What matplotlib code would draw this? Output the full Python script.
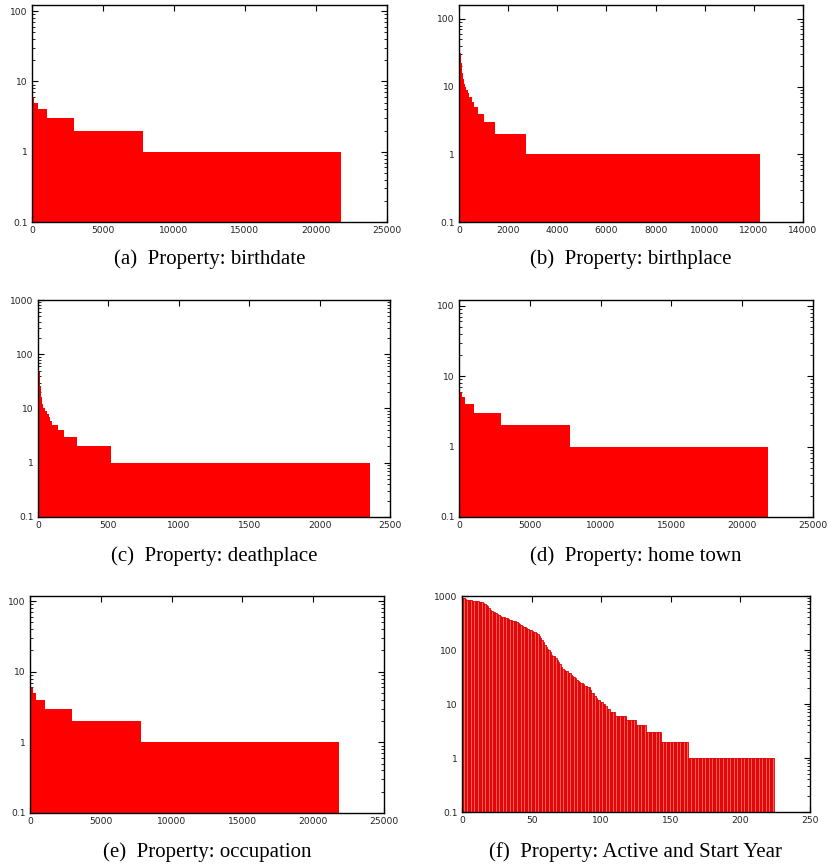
import numpy as np
import matplotlib
matplotlib.use("Agg")
import matplotlib.pyplot as plt
from matplotlib.ticker import FixedLocator, LogLocator, FuncFormatter

# rank / frequency plots, stored as distinct levels and how many items sit on each level

# (a) birthdate
bd_vals = [120, 95, 75, 60, 50, 42, 36, 31, 27, 24, 21, 19, 17, 15, 14, 13, 12, 11, 10, 9, 8, 7, 6, 5, 4, 3, 2, 1]
bd_runs = [1, 1, 1, 1, 1, 1, 1, 2, 2, 2, 2, 3, 3, 3, 4, 4, 5, 6, 7, 9, 11, 15, 60, 275, 640, 1900, 4840, 13960]

# (b) birthplace
bp_vals = [160, 120, 95, 80, 68, 58, 50, 44, 39, 35, 31, 28, 25, 22, 20, 18, 16, 14, 13, 12, 11,
           10, 9, 8, 7, 6, 5, 4, 3, 2, 1]
bp_runs = [2, 3, 4, 5, 5, 6, 7, 8, 8, 9, 10, 11, 12, 14, 15, 16, 18, 20, 22, 25, 30,
           50, 55, 56, 100, 110, 170, 210, 450, 1274, 9526]

# (c) deathplace
dp_vals = [100, 85, 80, 76, 72, 66, 60, 54, 48, 43, 38, 34, 30, 26, 22, 19, 16, 14, 13, 12, 11,
           10, 9, 8, 7, 6, 5, 4, 3, 2, 1]
dp_runs = [1, 1, 1, 2, 2, 1, 1, 1, 1, 1, 1, 2, 2, 2, 2, 2, 2, 3, 3, 3, 4,
           14, 15, 12, 9, 14, 38, 43, 93, 243, 1839]

# (d) home town
ht_vals = [120, 90, 70, 55, 45, 38, 32, 27, 23, 20, 18, 16, 15, 14, 13, 12, 11, 10, 9, 8, 7, 6, 5, 4, 3, 2, 1]
ht_runs = [1, 1, 1, 1, 1, 1, 2, 2, 2, 2, 3, 3, 3, 4, 4, 5, 6, 7, 9, 12, 16, 105, 210, 660, 1900, 4880, 13960]

# (e) occupation
oc_vals = [115, 88, 68, 54, 44, 37, 31, 26, 22, 19, 17, 15, 14, 13, 12, 11, 10, 9, 8, 7, 6, 5, 4, 3, 2, 1]
oc_runs = [1, 1, 1, 1, 1, 2, 2, 2, 2, 3, 3, 3, 4, 4, 5, 6, 7, 9, 12, 16, 105, 230, 640, 1900, 4880, 13960]

# (f) active and start year: first ranks one by one, then the flat tail
as_head = [930, 900, 880, 850, 840, 835, 830, 825, 820, 815, 800, 795, 790, 780, 760, 740, 720, 690,
           650, 600, 560, 530, 515, 505, 490, 470, 450, 430, 415, 405, 400, 395, 385, 375, 365, 360,
           350, 345, 340, 335, 320, 305, 290, 280, 270, 262, 255, 245, 237, 230, 225, 220, 218, 210,
           195, 180, 165, 153, 138, 124, 112, 104, 100, 90, 80, 78, 76, 72, 66, 61, 55, 49, 45, 43,
           41, 40, 38, 37, 35, 33, 32, 30, 28, 27, 26, 25, 24, 23, 22, 22, 21, 21, 18, 16, 16, 14,
           13, 12, 12, 11, 11, 10, 10, 9, 8, 8, 7, 7, 7, 7]
as_vals = [6, 5, 4, 3, 2, 1]
as_runs = [8, 7, 7, 11, 19, 62]

captions = ["(a)  Property: birthdate", "(b)  Property: birthplace", "(c)  Property: deathplace",
            "(d)  Property: home town", "(e)  Property: occupation", "(f)  Property: Active and Start Year"]

W, H = 829, 868
fig = plt.figure(figsize=(W / 100, H / 100), dpi=100)

# axes boxes in pixels: left, right, top, bottom
boxes = [(32, 387, 5, 222), (459, 803, 5, 222),
         (38, 390, 300, 517), (459, 813, 300, 517),
         (30, 384, 596, 813), (462, 810, 596, 812)]
xmax = [25000, 14000, 2500, 25000, 25000, 250]
xstep = [5000, 2000, 500, 5000, 5000, 50]
ytop = [122, 161, 1000, 121, 118, 1000]
cap_y = [259, 259, 556, 556, 852, 852]

data = [(bd_vals, bd_runs), (bp_vals, bp_runs), (dp_vals, dp_runs),
        (ht_vals, ht_runs), (oc_vals, oc_runs)]

ytick_fmt = FuncFormatter(lambda v, p: "%g" % v)

for i, (l, r, t, b) in enumerate(boxes):
    ax = fig.add_axes([l / W, 1 - b / H, (r - l) / W, (b - t) / H])
    ax.set_yscale("log")
    if i < 5:
        vals, runs = data[i]
        runs = np.array(runs)
        starts = np.concatenate([[0], np.cumsum(runs)[:-1]])
        ax.bar(starts, vals, width=runs, align="edge", color="#ff0000", linewidth=0, zorder=2)
    else:
        heights = np.concatenate([as_head, np.repeat(as_vals, as_runs)])
        xs = np.arange(len(heights))
        ax.bar(xs, heights, width=1, align="edge", color="#ff5a5a",
               edgecolor="#dd0000", linewidth=0.6, zorder=2)

    ax.set_xlim(0, xmax[i])
    ax.set_ylim(0.1, ytop[i])
    ax.xaxis.set_major_locator(FixedLocator(np.arange(0, xmax[i] + 1, xstep[i])))
    ax.yaxis.set_major_locator(LogLocator(base=10, numticks=10))
    ax.yaxis.set_minor_locator(LogLocator(base=10, subs=np.arange(2, 10), numticks=10))
    ax.yaxis.set_major_formatter(ytick_fmt)
    ax.yaxis.set_minor_formatter(FuncFormatter(lambda v, p: ""))
    ax.tick_params(which="both", direction="in", top=True, right=True,
                   labelsize=6.6, pad=3, colors="black")
    ax.tick_params(which="major", length=4, width=0.8)
    ax.tick_params(which="minor", length=2.2, width=0.6)
    for s in ax.spines.values():
        s.set_linewidth(1.0)
        s.set_zorder(3)
    for lab in ax.get_xticklabels() + ax.get_yticklabels():
        lab.set_color("#222222")

    fig.text((l + r) / 2 / W, 1 - cap_y[i] / H, captions[i], ha="center", va="center",
             fontsize=15, family="Liberation Serif")

fig.savefig("out.png", dpi=100)
